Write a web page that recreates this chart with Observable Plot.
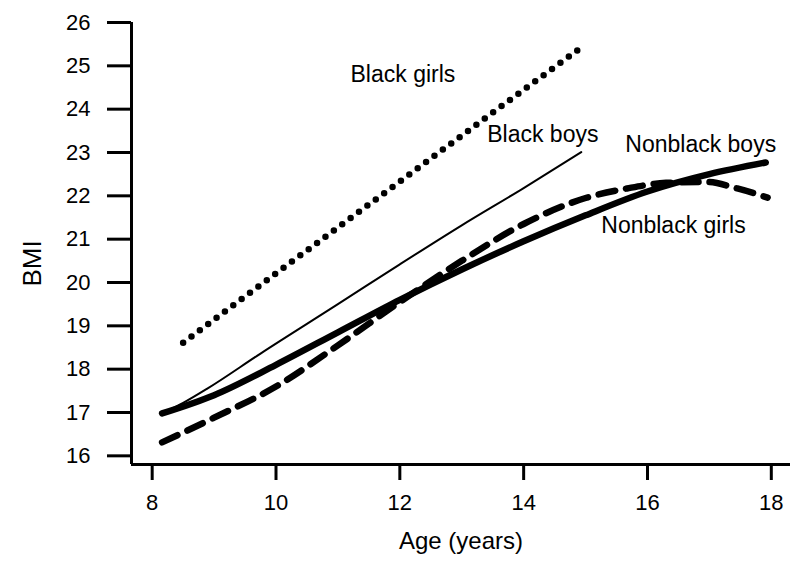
<!DOCTYPE html>
<html>
<head>
<meta charset="utf-8">
<script src="https://cdn.jsdelivr.net/npm/d3@7"></script>
<script src="https://cdn.jsdelivr.net/npm/@observablehq/plot@0.6"></script>
<style>
  html, body { margin: 0; padding: 0; background: #fff; }
  #chart { width: 800px; height: 567px; }
  svg { font-family: "Liberation Sans", Arial, sans-serif; }
</style>
</head>
<body>
<div id="chart"></div>
<script>
// ---- Data ----
const blackGirlsAge = [8.5, 9.5, 10.5, 11.5, 12.5, 13.5, 14.87];
const blackGirlsBMI = [18.61, 19.68, 20.74, 21.8, 22.86, 23.92, 25.36];

const blackBoysAge = [8.2, 8.5, 8.89, 9.75, 11.0, 12.0, 13.0, 14.0, 14.93];
const blackBoysBMI = [17.0, 17.22, 17.55, 18.36, 19.5, 20.42, 21.32, 22.18, 23.01];

const nonblackBoysAge = [8.16, 9.0, 10.0, 11.0, 12.0, 13.0, 14.0, 15.0, 16.0, 17.0, 17.91];
const nonblackBoysBMI = [16.98, 17.4, 18.1, 18.85, 19.6, 20.3, 20.95, 21.55, 22.1, 22.5, 22.77];

const nonblackGirlsAge = [8.16, 9.0, 10.0, 11.0, 12.0, 13.0, 14.0, 15.0, 15.67, 16.3, 16.97, 17.45, 17.94];
const nonblackGirlsBMI = [16.31, 16.88, 17.6, 18.55, 19.55, 20.5, 21.35, 21.95, 22.17, 22.3, 22.32, 22.17, 21.96];

const seriesLabels = ["Black girls", "Black boys", "Nonblack boys", "Nonblack girls"];
const labelAge = [12.05, 14.31, 16.86, 16.42];
const labelBMI = [24.63, 23.25, 23.01, 21.15];

const xTicks = [8, 10, 12, 14, 16, 18];
const yTicks = [16, 17, 18, 19, 20, 21, 22, 23, 24, 25, 26];
const xTitle = "Age (years)";
const yTitle = "BMI";

// ---- Build tables ----
const toRows = (ages, bmis) => ages.map((a, i) => ({age: a, bmi: bmis[i]}));
const blackGirls = toRows(blackGirlsAge, blackGirlsBMI);
const blackBoys = toRows(blackBoysAge, blackBoysBMI);
const nonblackBoys = toRows(nonblackBoysAge, nonblackBoysBMI);
const nonblackGirls = toRows(nonblackGirlsAge, nonblackGirlsBMI);
const labels = seriesLabels.map((t, i) => ({text: t, age: labelAge[i], bmi: labelBMI[i]}));

const xMin = 7.666, xMax = 18.31, yMin = 15.8, yMax = 26;

const chart = Plot.plot({
  width: 800,
  height: 567,
  marginLeft: 131,
  marginRight: 10,
  marginTop: 22,
  marginBottom: 103,
  style: {background: "#fff", color: "#000", fontFamily: "'Liberation Sans', Arial, sans-serif"},
  x: {domain: [xMin, xMax]},
  y: {domain: [yMin, yMax]},
  marks: [
    Plot.axisY({ticks: yTicks, tickSize: 24, tickPadding: 17, fontSize: 22, strokeWidth: 3, label: null, tickFormat: d => String(d)}),
    Plot.axisX({ticks: xTicks, tickSize: 16, tickPadding: 14, fontSize: 22, strokeWidth: 3, label: null, tickFormat: d => String(d)}),
    Plot.ruleX([xMin], {stroke: "#000", strokeWidth: 3}),
    Plot.ruleY([yMin], {stroke: "#000", strokeWidth: 3}),
    Plot.line(blackGirls, {x: "age", y: "bmi", curve: "monotone-x", stroke: "#000", strokeWidth: 6.5, strokeDasharray: "0,10.44", strokeLinecap: "round"}),
    Plot.line(blackBoys, {x: "age", y: "bmi", curve: "monotone-x", stroke: "#000", strokeWidth: 2}),
    Plot.line(nonblackGirls, {x: "age", y: "bmi", curve: "monotone-x", stroke: "#000", strokeWidth: 6.5, strokeDasharray: "17,11"}),
    Plot.line(nonblackBoys, {x: "age", y: "bmi", curve: "monotone-x", stroke: "#000", strokeWidth: 6.5}),
    Plot.text(labels, {x: "age", y: "bmi", text: "text", fontSize: 23, lineAnchor: "bottom", textAnchor: "middle", fill: "#000"}),
    Plot.text([xTitle], {frameAnchor: "bottom", dy: 77, fontSize: 24, lineAnchor: "middle", fill: "#000"}),
    Plot.text([yTitle], {frameAnchor: "left", dx: -99, dy: 43, rotate: -90, fontSize: 26, lineAnchor: "middle", fill: "#000"})
  ]
});
document.getElementById("chart").appendChild(chart);
</script>
</body>
</html>
